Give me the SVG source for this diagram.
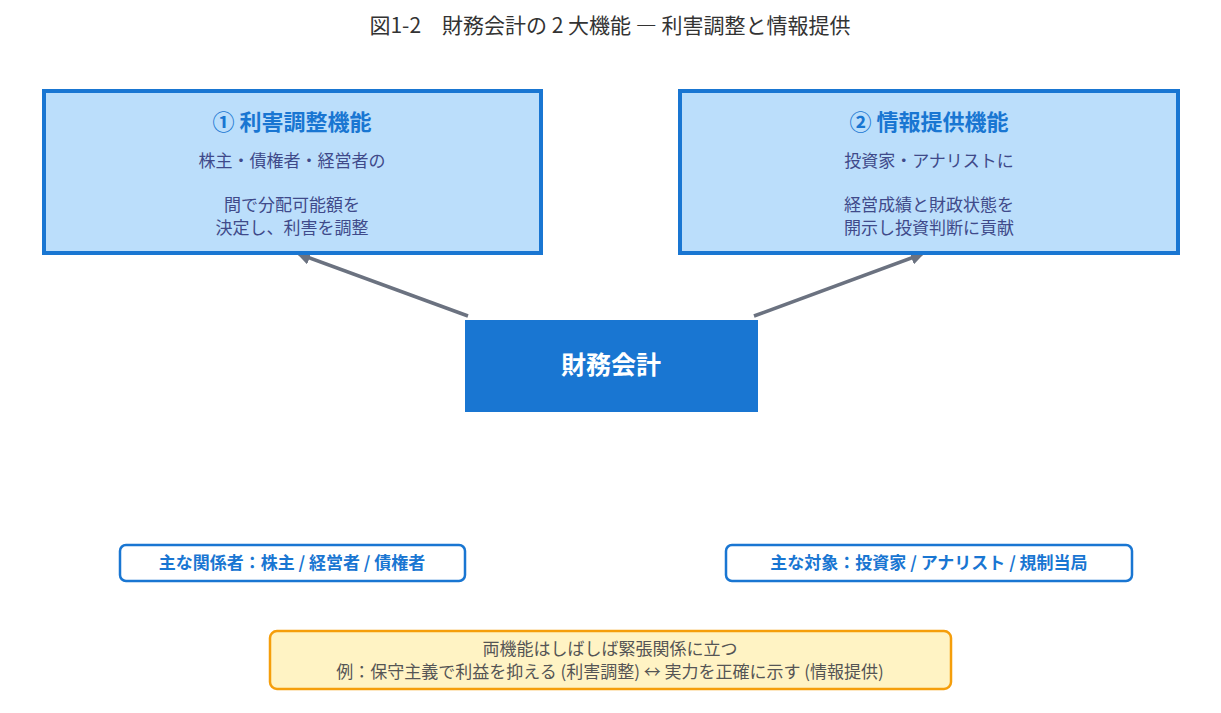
<svg xmlns="http://www.w3.org/2000/svg" width="1221" height="713" viewBox="0 0 1221 713">
<style>
text{font-family:"Noto Sans CJK JP","Noto Sans",sans-serif;text-anchor:middle}
.title{font-size:21px;fill:#333}
.box{fill:#bbdefb;stroke:#1976d2;stroke-width:4}
.h{font-size:22px;font-weight:bold;fill:#1976d2}
.b{font-size:17px;fill:#3f4a8a}
.tag{fill:#fff;stroke:#1976d2;stroke-width:2.5}
.t{font-size:17px;font-weight:bold;fill:#1976d2}
.n{font-size:17px;fill:#555}
.c{stroke:#6b7280;stroke-width:3.5;fill:none;marker-end:url(#ah)}
</style>
<defs><marker id="ah" viewBox="0 0 10 10" refX="8" refY="5" markerWidth="4" markerHeight="4" orient="auto"><path d="M0,0L10,5L0,10z" fill="#6b7280"/></marker></defs>
<rect width="1221" height="713" fill="#fff"/>
<text class="title" x="610" y="33">図1-2　財務会計の 2 大機能 ― 利害調整と情報提供</text>
<g id="connectors">
<line class="c" x1="468" y1="316" x2="299" y2="254"/>
<line class="c" x1="754" y1="316" x2="922" y2="254"/>
</g>
<g id="n1"><rect class="box" x="44" y="91" width="497" height="162"/>
<text class="h" x="292" y="130">① 利害調整機能</text>
<text class="b" x="292" y="167">株主・債権者・経営者の</text>
<text class="b" x="292" y="211">間で分配可能額を</text>
<text class="b" x="292" y="234">決定し、利害を調整</text></g>
<g id="n2"><rect class="box" x="680" y="91" width="498" height="162"/>
<text class="h" x="929" y="130">② 情報提供機能</text>
<text class="b" x="929" y="167">投資家・アナリストに</text>
<text class="b" x="929" y="211">経営成績と財政状態を</text>
<text class="b" x="929" y="234">開示し投資判断に貢献</text></g>
<g id="center"><rect x="465" y="320" width="293" height="92" fill="#1976d2"/>
<text x="611" y="374" font-size="25" font-weight="bold" fill="#fff">財務会計</text></g>
<g id="tag1"><rect class="tag" x="120" y="545" width="345" height="36" rx="6"/>
<text class="t" x="292" y="569">主な関係者：株主 / 経営者 / 債権者</text></g>
<g id="tag2"><rect class="tag" x="726" y="545" width="406" height="36" rx="6"/>
<text class="t" x="929" y="569">主な対象：投資家 / アナリスト / 規制当局</text></g>
<g id="note"><rect x="270" y="631" width="681" height="58" rx="7" fill="#fff3c4" stroke="#f59e0b" stroke-width="2.5"/>
<text class="n" x="610" y="655">両機能はしばしば緊張関係に立つ</text>
<text class="n" x="610" y="678">例：保守主義で利益を抑える (利害調整) ↔ 実力を正確に示す (情報提供)</text></g>
</svg>
